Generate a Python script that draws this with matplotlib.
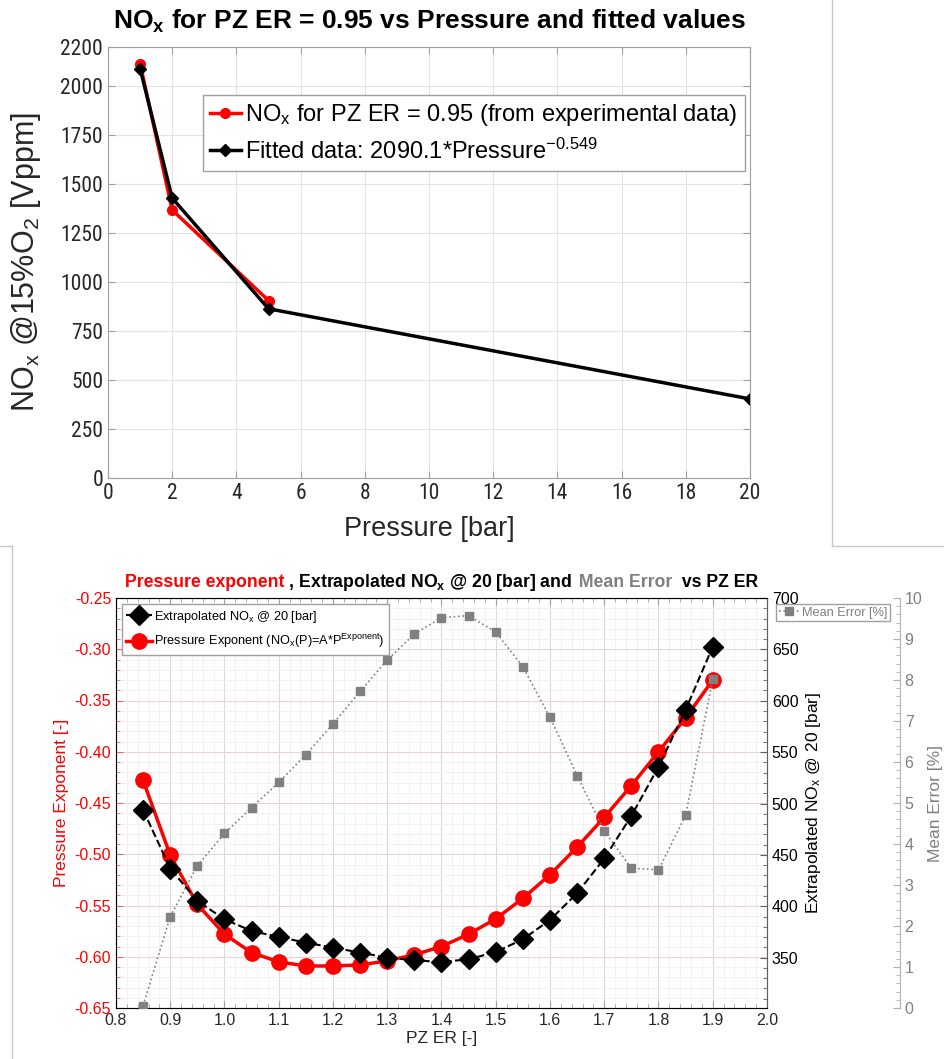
import matplotlib
matplotlib.use('Agg')
import matplotlib.pyplot as plt
from matplotlib import font_manager
from matplotlib.lines import Line2D
from matplotlib.ticker import MultipleLocator
from matplotlib.offsetbox import TextArea, HPacker, AnchoredOffsetbox

# ---- top chart: NOx vs pressure (PZ ER = 0.95) ----
pressure_exp = [1, 2, 5]
nox_exp = [2115, 1368, 906]
pressure_fit = [1, 2, 5, 20]
nox_fit = [2090.1, 1428.6, 863.8, 403.6]
top_xticks = [0, 2, 4, 6, 8, 10, 12, 14, 16, 18, 20]
top_yticks = [0, 250, 500, 750, 1000, 1250, 1500, 1750, 2000, 2200]

# ---- bottom chart: values vs PZ ER ----
pz_er = [0.85, 0.90, 0.95, 1.00, 1.05, 1.10, 1.15, 1.20, 1.25, 1.30, 1.35,
         1.40, 1.45, 1.50, 1.55, 1.60, 1.65, 1.70, 1.75, 1.80, 1.85, 1.90]
pressure_exponent = [-0.428, -0.501, -0.549, -0.578, -0.596, -0.605, -0.609,
                     -0.609, -0.608, -0.604, -0.598, -0.590, -0.578, -0.563,
                     -0.543, -0.520, -0.493, -0.464, -0.433, -0.400, -0.367,
                     -0.330]
nox_20bar = [493.8, 436.7, 405.2, 387.3, 376.0, 370.1, 364.6, 359.8, 354.9,
             350.0, 347.4, 345.8, 348.4, 355.5, 367.9, 386.7, 412.7, 446.5,
             488.0, 535.7, 591.2, 652.6]
mean_error = [0.06, 2.23, 3.47, 4.26, 4.89, 5.50, 6.18, 6.93, 7.72, 8.49, 9.12,
              9.52, 9.57, 9.17, 8.32, 7.09, 5.67, 4.32, 3.41, 3.37, 4.70, 8.02]

# fonts: a narrow face for the tall thin tick numbers, if one is installed
fonts = font_manager.fontManager.ttflist
names = {f.name for f in fonts}
NARROW = dict(family='Liberation Sans')
if 'Liberation Sans Narrow' in names:
    NARROW = dict(family='Liberation Sans Narrow')
elif 'Roboto Condensed' in names:
    NARROW = dict(family='Roboto Condensed')
elif any(f.name == 'DejaVu Sans' and f.stretch == 'condensed' for f in fonts):
    NARROW = dict(family='DejaVu Sans', stretch='condensed')

plt.rcParams['font.family'] = ['Liberation Sans', 'DejaVu Sans']
plt.rcParams['mathtext.default'] = 'regular'
plt.rcParams['axes.unicode_minus'] = False

TXT = '#262626'
GRAY = '#808080'

fig = plt.figure(figsize=(9.45, 10.59), dpi=100)
W, H = 945.0, 1059.0

# screenshot borders
fig.add_artist(Line2D([832 / W, 832 / W], [1, 1 - 546 / H], transform=fig.transFigure, color='#c8c8c8', lw=1))
fig.add_artist(Line2D([832 / W, 1], [1 - 546 / H, 1 - 546 / H], transform=fig.transFigure, color='#c8c8c8', lw=1))
fig.add_artist(Line2D([12 / W, 12 / W], [1 - 546 / H, 0], transform=fig.transFigure, color='#c8c8c8', lw=1))
fig.add_artist(Line2D([0, 12 / W], [1 - 546 / H, 1 - 546 / H], transform=fig.transFigure, color='#c8c8c8', lw=1))

# ================= top chart =================
ax = fig.add_axes([108 / W, 1 - 478 / H, 642 / W, 431 / H])
ax.plot(pressure_exp, nox_exp, '-o', color='red', lw=2.5, ms=7,
        label=r'NO$_x$ for PZ ER = 0.95 (from experimental data)')
ax.plot(pressure_fit, nox_fit, '-D', color='black', lw=2.5, ms=6,
        label=r'Fitted data: 2090.1*Pressure$^{-0.549}$')
ax.set_xlim(0, 20)
ax.set_ylim(0, 2200)
ax.set_xticks(top_xticks)
ax.set_yticks(top_yticks)
ax.grid(True, color='#e3e3e3', lw=0.8)
ax.set_axisbelow(True)
ax.tick_params(direction='in', top=True, right=True, colors='#a0a0a0',
               labelcolor=TXT, labelsize=15.5, length=5)
for lab in ax.get_xticklabels() + ax.get_yticklabels():
    lab.set(**NARROW)
for s in ax.spines.values():
    s.set_color('#a0a0a0')
ax.set_xlabel('Pressure [bar]', fontsize=19.5, color=TXT, labelpad=9)
ax.set_ylabel(r'NO$_x$ @15%O$_2$ [Vppm]', fontsize=22, color=TXT)
ax.yaxis.set_label_coords(-0.102, 0.5)
ax.set_title(r'NO$_x$ for PZ ER = 0.95 vs Pressure and fitted values',
             fontsize=19, fontweight='bold', pad=13)
ax.legend(loc='upper right', bbox_to_anchor=(0.992, 0.889), borderaxespad=0,
          fontsize=17, fancybox=False, edgecolor='#a0a0a0',
          framealpha=1, handlelength=1.3, handletextpad=0.2, borderpad=0.3,
          labelspacing=0.45)

# ================= bottom chart =================
axb = fig.add_axes([116 / W, 1 - 1008 / H, 651 / W, 410 / H])
l_exp, = axb.plot(pz_er, pressure_exponent, '-o', color='red', lw=2.5, ms=11)
axb.set_xlim(0.8, 2.0)
axb.set_ylim(-0.65, -0.25)
axb.xaxis.set_major_locator(MultipleLocator(0.1))
axb.xaxis.set_minor_locator(MultipleLocator(0.02))
axb.yaxis.set_major_locator(MultipleLocator(0.05))
axb.yaxis.set_minor_locator(MultipleLocator(0.01))
axb.grid(True, which='major', axis='x', color='#dadada', lw=0.8)
axb.grid(True, which='minor', axis='x', color='#f0f0f0', lw=0.6)
axb.grid(True, which='major', axis='y', color='#ecd2d2', lw=0.8)
axb.grid(True, which='minor', axis='y', color='#f9ecec', lw=0.6)
axb.set_axisbelow(True)
axb.tick_params(axis='x', which='both', direction='in', top=True, colors='#a0a0a0',
                labelcolor=TXT, labelsize=11.5)
axb.tick_params(axis='y', which='both', direction='in', colors='#e07070',
                labelcolor='red', labelsize=11.5)
axb.tick_params(which='major', length=5)
axb.tick_params(which='minor', length=3)
axb.spines['left'].set_color('#e07070')
for k in ('bottom', 'top', 'right'):
    axb.spines[k].set_color('#a0a0a0')
axb.set_ylabel('Pressure Exponent [-]', color='red', fontsize=12.5)
axb.set_xlabel('PZ ER [-]', color=TXT, fontsize=12.5, labelpad=2)

axn = axb.twinx()
l_nox, = axn.plot(pz_er, nox_20bar, '--D', color='black', lw=1.5, ms=10)
axn.set_ylim(301, 700)
axn.yaxis.set_major_locator(MultipleLocator(50))
axn.yaxis.set_minor_locator(MultipleLocator(10))
axn.tick_params(axis='y', which='both', direction='in', colors='#606060',
                labelcolor='black', labelsize=11.5)
axn.tick_params(which='major', length=5)
axn.tick_params(which='minor', length=3)
axn.spines['right'].set_color('#606060')
axn.set_ylabel(r'Extrapolated NO$_x$ @ 20 [bar]', color='black', fontsize=12.5)

axe = axb.twinx()
axe.spines['right'].set_position(('axes', 1.204))
for k in ('left', 'top', 'bottom'):
    axe.spines[k].set_visible(False)
axe.spines['right'].set_color('#b0b0b0')
l_err, = axe.plot(pz_er, mean_error, ':s', color=GRAY, lw=1.2, ms=5.5)
axe.set_ylim(0, 10)
axe.yaxis.set_major_locator(MultipleLocator(1))
axe.yaxis.set_minor_locator(MultipleLocator(0.2))
axe.tick_params(axis='y', which='both', direction='in', colors='#b0b0b0',
                labelcolor=GRAY, labelsize=11.5)
axe.tick_params(which='major', length=5)
axe.tick_params(which='minor', length=3)
axe.set_ylabel('Mean Error [%]', color=GRAY, fontsize=12.5)

leg1 = axe.legend([l_nox, l_exp],
                  [r'Extrapolated NO$_x$ @ 20 [bar]',
                   r'Pressure Exponent (NO$_x$(P)=A*P$^{Exponent}$)'],
                  loc='upper left', bbox_to_anchor=(0.009, 0.985), borderaxespad=0,
                  fontsize=9.2, fancybox=False, edgecolor='#a0a0a0', framealpha=1,
                  handlelength=2.0, handletextpad=0.2, borderpad=0.35, labelspacing=0.6)
axe.add_artist(leg1)
axe.legend([l_err], ['Mean Error [%]'], loc='upper left', bbox_to_anchor=(1.014, 0.985),
           borderaxespad=0, fontsize=9.2, fancybox=False, edgecolor='#a0a0a0',
           framealpha=1, labelcolor=GRAY, handlelength=1.6, handletextpad=0.2,
           borderpad=0.2)

# multi-coloured title
parts = [('Pressure exponent', 'red'), (r' , Extrapolated NO$_x$ @ 20 [bar] and ', 'black'),
         (' Mean Error ', GRAY), (' vs PZ ER', 'black')]
boxes = [TextArea(t, textprops=dict(color=c, fontsize=12.7, fontweight='bold'))
         for t, c in parts]
title_box = AnchoredOffsetbox(loc='lower center', child=HPacker(children=boxes, pad=0, sep=0),
                              bbox_to_anchor=(0.5, 1.012), bbox_transform=axb.transAxes,
                              frameon=False, pad=0, borderpad=0)
axb.add_artist(title_box)

fig.savefig('out.png', dpi=100)
